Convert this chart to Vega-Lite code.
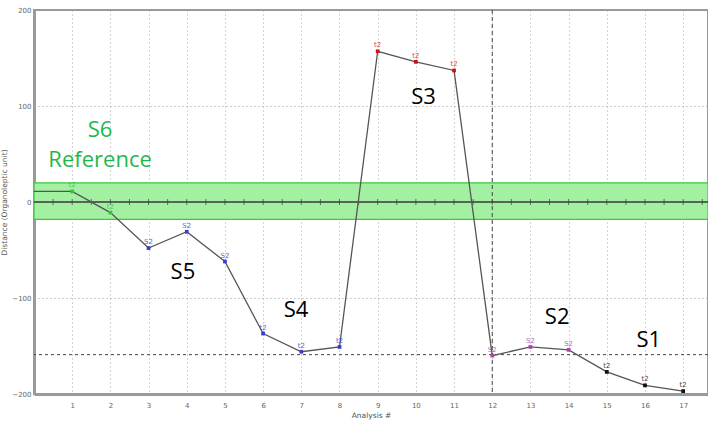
{
  "$schema": "https://vega.github.io/schema/vega-lite/v6.json",
  "width": 674,
  "height": 384,
  "autosize": "none",
  "padding": {"left": 34, "top": 10, "right": 0, "bottom": 36},
  "background": "white",
  "config": {"view": {"stroke": "#9a9a9a", "strokeWidth": 2}},
  "datasets": {
    "pts": [
      {"a": 1, "d": 11, "s": "S6", "lab": "t2"},
      {"a": 2, "d": -11, "s": "S6", "lab": "t2"},
      {"a": 3, "d": -48, "s": "S5", "lab": "S2"},
      {"a": 4, "d": -31, "s": "S5", "lab": "S2"},
      {"a": 5, "d": -62, "s": "S5", "lab": "S2"},
      {"a": 6, "d": -137, "s": "S4", "lab": "t2"},
      {"a": 7, "d": -156, "s": "S4", "lab": "t2"},
      {"a": 8, "d": -151, "s": "S4", "lab": "t2"},
      {"a": 9, "d": 157, "s": "S3", "lab": "t2"},
      {"a": 10, "d": 146, "s": "S3", "lab": "t2"},
      {"a": 11, "d": 137, "s": "S3", "lab": "t2"},
      {"a": 12, "d": -160, "s": "S2", "lab": "S2"},
      {"a": 13, "d": -151, "s": "S2", "lab": "S2"},
      {"a": 14, "d": -154, "s": "S2", "lab": "S2"},
      {"a": 15, "d": -177, "s": "S1", "lab": "t2"},
      {"a": 16, "d": -191, "s": "S1", "lab": "t2"},
      {"a": 17, "d": -197, "s": "S1", "lab": "t2"}
    ],
    "line": [
      {"a": 0, "d": 11}, {"a": 1, "d": 11}, {"a": 2, "d": -11}, {"a": 3, "d": -48},
      {"a": 4, "d": -31}, {"a": 5, "d": -62}, {"a": 6, "d": -137}, {"a": 7, "d": -156},
      {"a": 8, "d": -151}, {"a": 9, "d": 157}, {"a": 10, "d": 146}, {"a": 11, "d": 137},
      {"a": 12, "d": -160}, {"a": 13, "d": -151}, {"a": 14, "d": -154}, {"a": 15, "d": -177},
      {"a": 16, "d": -191}, {"a": 17, "d": -197}
    ],
    "ann": [
      {"a": 1.73, "d": 75, "t": "S6", "c": "#1fb84a"},
      {"a": 1.73, "d": 44, "t": "Reference", "c": "#1fb84a"},
      {"a": 10.2, "d": 109, "t": "S3", "c": "#000000"},
      {"a": 3.9, "d": -73, "t": "S5", "c": "#000000"},
      {"a": 6.86, "d": -113, "t": "S4", "c": "#000000"},
      {"a": 13.7, "d": -120, "t": "S2", "c": "#000000"},
      {"a": 16.1, "d": -144, "t": "S1", "c": "#000000"}
    ],
    "ticks": [
      {"a": 0.5}, {"a": 1}, {"a": 1.5}, {"a": 2}, {"a": 2.5}, {"a": 3}, {"a": 3.5}, {"a": 4},
      {"a": 4.5}, {"a": 5}, {"a": 5.5}, {"a": 6}, {"a": 6.5}, {"a": 7}, {"a": 7.5}, {"a": 8},
      {"a": 8.5}, {"a": 9}, {"a": 9.5}, {"a": 10}, {"a": 10.5}, {"a": 11}, {"a": 11.5}, {"a": 12},
      {"a": 12.5}, {"a": 13}, {"a": 13.5}, {"a": 14}, {"a": 14.5}, {"a": 15}, {"a": 15.5}, {"a": 16},
      {"a": 16.5}, {"a": 17}, {"a": 17.5}
    ],
    "band": [{"lo": -18, "hi": 20}],
    "ref": [{"zero": 0, "thr": -159, "v": 12}]
  },
  "layer": [
    {
      "data": {"name": "band"},
      "mark": {"type": "rect", "fill": "#a3f0a3", "stroke": "#3cc83c", "strokeWidth": 1.2},
      "encoding": {
        "y": {"field": "lo", "type": "quantitative", "scale": {"domain": [-200, 200], "nice": false},
          "axis": {"values": [-200, -100, 0, 100, 200], "grid": true, "gridDash": [1, 3], "gridColor": "#9a9a9a",
            "title": "Distance (Organoleptic unit)", "titleFont": "DejaVu Sans", "titleFontSize": 7.5, "titleFontWeight": "normal",
            "titleColor": "#555555", "titleX": -26, "titleY": 192, "titleAnchor": "middle",
            "labelFont": "DejaVu Sans", "labelFontSize": 7, "labelColor": "#666666", "ticks": false, "labelPadding": 3,
            "domainColor": "#9a9a9a", "domainWidth": 3}},
        "y2": {"field": "hi"},
        "x": {"datum": 0, "type": "quantitative", "scale": {"domain": [0, 17.65], "nice": false},
          "axis": {"values": [1, 2, 3, 4, 5, 6, 7, 8, 9, 10, 11, 12, 13, 14, 15, 16, 17], "grid": true, "gridDash": [1, 3],
            "gridColor": "#a8a8a8", "title": "Analysis #", "titleFont": "DejaVu Sans", "titleFontSize": 7.5,
            "titleFontWeight": "normal", "titleColor": "#555555", "titlePadding": 3,
            "labelFont": "DejaVu Sans", "labelFontSize": 7, "labelColor": "#666666", "ticks": false, "labelPadding": 7,
            "domainColor": "#9a9a9a", "domainWidth": 3}},
        "x2": {"datum": 17.65}
      }
    },
    {
      "data": {"name": "ref"},
      "mark": {"type": "rule", "color": "#3a3a3a", "strokeWidth": 1.5},
      "encoding": {"y": {"field": "zero", "type": "quantitative"}}
    },
    {
      "data": {"name": "ticks"},
      "mark": {"type": "tick", "color": "#3a3a3a", "orient": "vertical", "size": 6, "thickness": 1},
      "encoding": {"x": {"field": "a", "type": "quantitative"}, "y": {"datum": 0, "type": "quantitative"}}
    },
    {
      "data": {"name": "ref"},
      "mark": {"type": "rule", "color": "#444444", "strokeWidth": 1, "strokeDash": [3, 3]},
      "encoding": {"y": {"field": "thr", "type": "quantitative"}}
    },
    {
      "data": {"name": "ref"},
      "mark": {"type": "rule", "color": "#444444", "strokeWidth": 1, "strokeDash": [4, 3]},
      "encoding": {"x": {"field": "v", "type": "quantitative"}}
    },
    {
      "data": {"name": "line"},
      "mark": {"type": "line", "color": "#555555", "strokeWidth": 1.3},
      "encoding": {"x": {"field": "a", "type": "quantitative"}, "y": {"field": "d", "type": "quantitative"}}
    },
    {
      "data": {"name": "pts"},
      "mark": {"type": "square", "size": 14, "opacity": 1},
      "encoding": {
        "x": {"field": "a", "type": "quantitative"},
        "y": {"field": "d", "type": "quantitative"},
        "color": {"field": "s", "type": "nominal", "legend": null,
          "scale": {"domain": ["S6", "S5", "S4", "S3", "S2", "S1"], "range": ["#3cbf3c", "#3c3ccc", "#3c3ccc", "#d01010", "#b040b0", "#111111"]}}
      }
    },
    {
      "data": {"name": "pts"},
      "mark": {"type": "text", "fontSize": 7, "font": "DejaVu Sans", "dy": -6, "opacity": 0.8},
      "encoding": {
        "x": {"field": "a", "type": "quantitative"},
        "y": {"field": "d", "type": "quantitative"},
        "text": {"field": "lab"},
        "color": {"field": "s", "type": "nominal", "legend": null}
      }
    },
    {
      "data": {"name": "ann"},
      "mark": {"type": "text", "fontSize": 22, "font": "Open Sans", "align": "center", "baseline": "middle"},
      "encoding": {
        "x": {"field": "a", "type": "quantitative"},
        "y": {"field": "d", "type": "quantitative"},
        "text": {"field": "t"},
        "color": {"field": "c", "type": "nominal", "scale": null}
      }
    }
  ]
}
